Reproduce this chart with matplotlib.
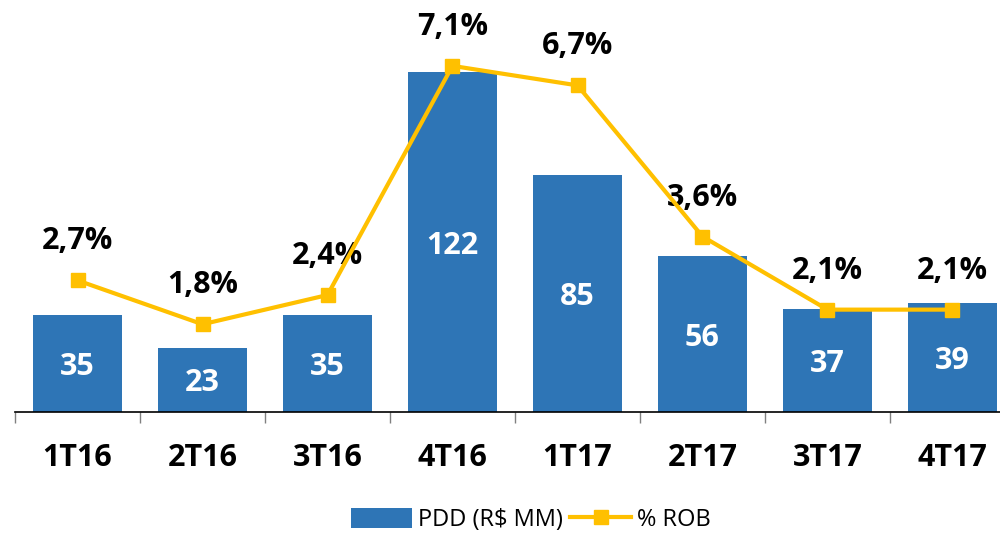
import numpy as np
import matplotlib
matplotlib.use("Agg")
import matplotlib.pyplot as plt
from matplotlib.ticker import FixedLocator

plt.rcParams['font.family'] = ['Open Sans', 'DejaVu Sans']

# data
quarters = ["1T16", "2T16", "3T16", "4T16", "1T17", "2T17", "3T17", "4T17"]
pdd = [35, 23, 35, 122, 85, 56, 37, 39]
rob_pct = [2.7, 1.8, 2.4, 7.1, 6.7, 3.6, 2.1, 2.1]
rob_labels = ["2,7%", "1,8%", "2,4%", "7,1%", "6,7%", "3,6%", "2,1%", "2,1%"]

bar_color = "#2E75B6"
line_color = "#FFC000"

fig = plt.figure(figsize=(10, 5.33), dpi=100)
ax = fig.add_axes([0.015, 0.227, 1.0, 0.7317])
x = np.arange(len(quarters))

bars = ax.bar(x, pdd, width=0.71, color=bar_color, label="PDD (R$ MM)", zorder=2)
for xi, v in zip(x, pdd):
    # center_baseline sits the digits visually in the middle of the bar
    ax.text(xi, v / 2, str(v), ha="center", va="center_baseline", color="white",
            fontsize=22, fontweight="bold", zorder=3)

ax.set_xlim(-0.5, len(quarters) - 0.5)
ax.set_ylim(0, 140)
ax.set_yticks([])
for s in ["top", "right", "left"]:
    ax.spines[s].set_visible(False)
ax.spines["bottom"].set_color("black")
ax.spines["bottom"].set_linewidth(1.2)

ax.set_xticks(x)
ax.set_xticklabels(quarters, fontsize=22, fontweight="bold")
ax.tick_params(axis="x", which="major", length=0, pad=22)
ax.xaxis.set_minor_locator(FixedLocator(np.arange(-0.5, len(quarters), 1.0)))
ax.tick_params(axis="x", which="minor", length=8, width=1, color="#808080")

ax2 = ax.twinx()
ax2.set_ylim(0, 8)
ax2.set_yticks([])
for s in ["top", "right", "left", "bottom"]:
    ax2.spines[s].set_visible(False)
line, = ax2.plot(x, rob_pct, color=line_color, lw=3, marker="s", markersize=10,
                 label="% ROB", zorder=4)
for xi, v, lab in zip(x, rob_pct, rob_labels):
    ax2.annotate(lab, (xi, v), xytext=(0, 28), textcoords="offset points",
                 ha="center", va="center", fontsize=22, fontweight="bold",
                 color="black")

fig.legend([bars, line], ["PDD (R$ MM)", "% ROB"], loc="center",
           bbox_to_anchor=(0.531, 0.024), ncol=2, frameon=False, fontsize=17,
           handlelength=2.6, handleheight=0.9, handletextpad=0.25,
           columnspacing=0.3)

fig.savefig("out.png", dpi=100)
